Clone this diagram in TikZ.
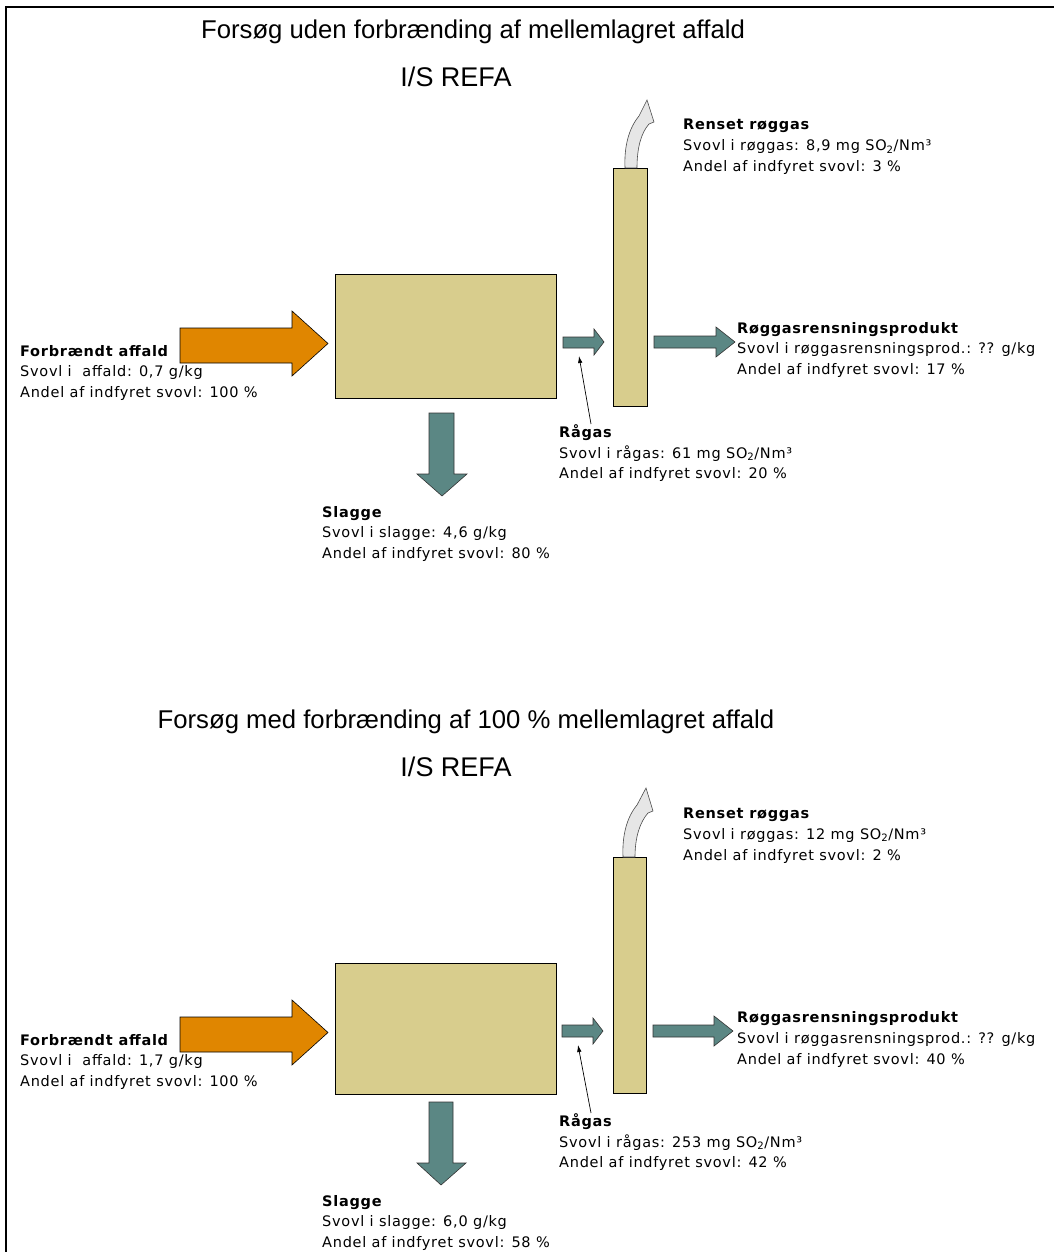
\documentclass[tikz,border=0pt]{standalone}
\usepackage{fontspec}
\setmainfont{Liberation Sans}
\newfontfamily\lblfont[LetterSpace=5]{DejaVu Sans}
\usetikzlibrary{arrows.meta}
\definecolor{tanc}{RGB}{216,205,141}
\definecolor{orangec}{RGB}{224,134,0}
\definecolor{tealc}{RGB}{91,135,132}
\definecolor{smokec}{RGB}{230,230,230}
\begin{document}
\begin{tikzpicture}[x=1pt,y=-1pt,
  lbl/.style={anchor=base west,inner sep=0pt,font=\lblfont\fontsize{14.5}{16}\selectfont},
  lblb/.style={anchor=base west,inner sep=0pt,font=\lblfont\bfseries\fontsize{14.5}{16}\selectfont},
  ttl/.style={anchor=base,inner sep=0pt,font=\fontsize{25.7}{30}\selectfont},
  orgttl/.style={anchor=base,inner sep=0pt,font=\fontsize{27}{30}\selectfont},
  tanshape/.style={draw=black,line width=0.8pt,fill=tanc},
  orangearrow/.style={draw=black,line width=0.6pt,fill=orangec},
  tealarrow/.style={draw=black!80,line width=0.6pt,fill=tealc},
  smokearrow/.style={draw=black!70,line width=0.6pt,fill=smokec},
  ptr/.style={line width=0.7pt,-{Latex[length=7pt,width=4.5pt]}},
  frame/.style={line width=1.5pt}]
\useasboundingbox (0,0) rectangle (1054,1252);
\draw[frame] (6,1252) -- (6,7) -- (1054,7);

% ================= TOP DIAGRAM =================
\node[ttl] (title1) at (473,39) {Forsøg uden forbrænding af mellemlagret affald};
\node[orgttl] (org1) at (456,87) {I/S REFA};

\node[tanshape,minimum width=221pt,minimum height=124pt,inner sep=0pt] (box1) at (445.5,336) {};
\node[tanshape,minimum width=34pt,minimum height=238pt,inner sep=0pt] (col1) at (630,287) {};

% input arrow
\path[orangearrow] (180,328) -- (292,328) -- (292,311) -- (328,343.5) -- (292,376) -- (292,363) -- (180,363) -- cycle;
% slag arrow
\path[tealarrow] (429,413) -- (454,413) -- (454,474) -- (467,474) -- (442,496) -- (417,474) -- (429,474) -- cycle;
% raw gas arrow
\path[tealarrow] (563,337) -- (594,337) -- (594,329) -- (604,342) -- (594,355) -- (594,348) -- (563,348) -- cycle;
% product arrow
\path[tealarrow] (654,336) -- (716,336) -- (716,327) -- (735,342) -- (716,357) -- (716,348) -- (654,348) -- cycle;
% exhaust
\path[smokearrow] (625,168) .. controls (624,146) and (629,128) .. (639,116)
  -- (647,100) -- (654,122) -- (649,124)
  .. controls (641,133) and (637,148) .. (637,168) -- cycle;

% labels
\node[lblb] (in1a) at (20,356) {Forbrændt affald};
\node[lbl] (in1b) at (20,376) {Svovl i\ \ affald: 0,7 g/kg};
\node[lbl] (in1c) at (20,397) {Andel af indfyret svovl: 100 \%};

\node[lblb] (sl1a) at (322,517) {Slagge};
\node[lbl] (sl1b) at (322,537.5) {Svovl i slagge: 4,6 g/kg};
\node[lbl] (sl1c) at (322,558) {Andel af indfyret svovl: 80 \%};

\node[lblb] (rg1a) at (559,437) {Rågas};
\node[lbl] (rg1b) at (559,458) {Svovl i rågas: 61 mg SO\textsubscript{2}/Nm³};
\node[lbl] (rg1c) at (559,478) {Andel af indfyret svovl: 20 \%};

\node[lblb] (rs1a) at (683,130) {Renset røggas};
\node[lbl] (rs1b) at (683,151) {Svovl i røggas: 8,9 mg SO\textsubscript{2}/Nm³};
\node[lbl] (rs1c) at (683,172) {Andel af indfyret svovl: 3 \%};

\node[lblb] (rp1a) at (737,333) {Røggasrensningsprodukt};
\node[lbl] (rp1b) at (737,353) {Svovl i røggasrensningsprod.: ?? g/kg};
\node[lbl] (rp1c) at (737,374) {Andel af indfyret svovl: 17 \%};

\coordinate (rg1src) at (591,424);
\coordinate (rg1tip) at (579,356);
\draw[ptr] (rg1src) -- (rg1tip);

% ================= BOTTOM DIAGRAM =================
\node[ttl] (title2) at (466,728) {Forsøg med forbrænding af 100 \% mellemlagret affald};
\node[orgttl] (org2) at (456,776) {I/S REFA};

\node[tanshape,minimum width=221pt,minimum height=131pt,inner sep=0pt] (box2) at (445.5,1028.5) {};
\node[tanshape,minimum width=33pt,minimum height=236pt,inner sep=0pt] (col2) at (629.5,975) {};

\path[orangearrow] (180,1017) -- (292,1017) -- (292,1000) -- (328,1032.5) -- (292,1065) -- (292,1052) -- (180,1052) -- cycle;
\path[tealarrow] (429,1102) -- (453,1102) -- (453,1163) -- (466,1163) -- (441,1185) -- (417,1163) -- (429,1163) -- cycle;
\path[tealarrow] (562,1025) -- (593,1025) -- (593,1018) -- (603,1031) -- (593,1044) -- (593,1037) -- (562,1037) -- cycle;
\path[tealarrow] (653,1025) -- (714,1025) -- (714,1016) -- (733,1031) -- (714,1046) -- (714,1037) -- (653,1037) -- cycle;
\path[smokearrow] (623,857) .. controls (622,835) and (627,817) .. (637,805)
  -- (646,788) -- (653,811) -- (648,813)
  .. controls (640,822) and (635,837) .. (635,857) -- cycle;

\node[lblb] (in2a) at (20,1045) {Forbrændt affald};
\node[lbl] (in2b) at (20,1065) {Svovl i\ \ affald: 1,7 g/kg};
\node[lbl] (in2c) at (20,1086) {Andel af indfyret svovl: 100 \%};

\node[lblb] (sl2a) at (322,1206) {Slagge};
\node[lbl] (sl2b) at (322,1226.5) {Svovl i slagge: 6,0 g/kg};
\node[lbl] (sl2c) at (322,1247) {Andel af indfyret svovl: 58 \%};

\node[lblb] (rg2a) at (559,1126) {Rågas};
\node[lbl] (rg2b) at (559,1147) {Svovl i rågas: 253 mg SO\textsubscript{2}/Nm³};
\node[lbl] (rg2c) at (559,1167) {Andel af indfyret svovl: 42 \%};

\node[lblb] (rs2a) at (683,818) {Renset røggas};
\node[lbl] (rs2b) at (683,839) {Svovl i røggas: 12 mg SO\textsubscript{2}/Nm³};
\node[lbl] (rs2c) at (683,860) {Andel af indfyret svovl: 2 \%};

\node[lblb] (rp2a) at (737,1022) {Røggasrensningsprodukt};
\node[lbl] (rp2b) at (737,1043) {Svovl i røggasrensningsprod.: ?? g/kg};
\node[lbl] (rp2c) at (737,1064) {Andel af indfyret svovl: 40 \%};

\coordinate (rg2src) at (591,1113);
\coordinate (rg2tip) at (578,1045);
\draw[ptr] (rg2src) -- (rg2tip);
\end{tikzpicture}
\end{document}
